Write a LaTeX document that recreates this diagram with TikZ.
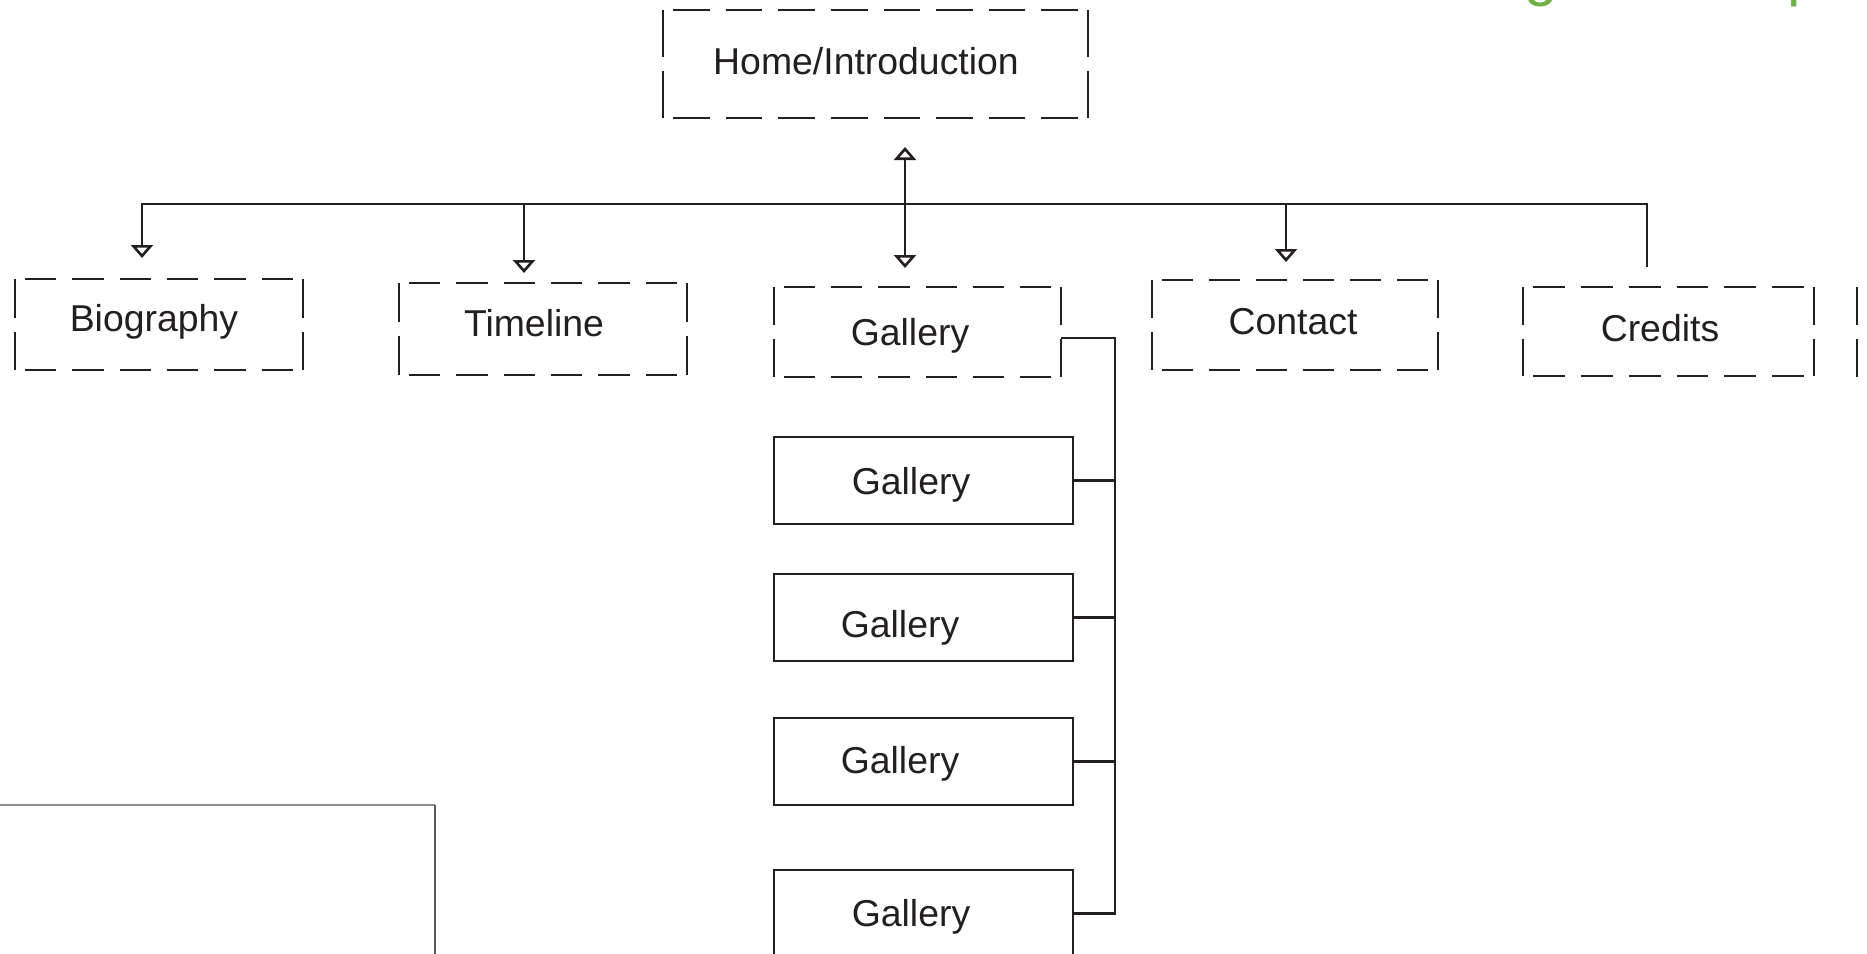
\documentclass[tikz,border=0pt]{standalone}
\usepackage{fontspec}
\setmainfont{Liberation Sans}
\usetikzlibrary{arrows.meta,calc}
\definecolor{ink}{HTML}{231F20}
\definecolor{titlegreen}{RGB}{108,178,68}
\definecolor{frametop}{HTML}{8C8C8C}
\definecolor{frameside}{HTML}{5A5A5A}
\tikzset{
  boxarea/.style={rectangle, inner sep=0pt, outer sep=0pt, draw=none},
  solidbox/.style={rectangle, inner sep=0pt, outer sep=0pt, draw=ink, line width=1.3pt},
  dline/.style={draw=ink, line width=1.3pt},
  conn/.style={draw=ink, line width=1.3pt},
  arr/.style={conn, -{Triangle[open, length=6.5pt, width=11pt]}},
  darr/.style={conn, {Triangle[open, length=6.5pt, width=11pt]}-{Triangle[open, length=6.5pt, width=11pt]}},
  lbl/.style={anchor=base, inner sep=0pt, text=ink, font=\fontsize{18.7pt}{22pt}\selectfont},
}
\newcommand\mydbox[5]{%
  \node[boxarea, minimum width=#4*0.5pt, minimum height=#5*0.5pt] (#1) at (#2,#3) {};
  \pgfmathsetmacro\dW{#4*0.5}%
  \pgfmathtruncatemacro\dN{round((\dW-2)/25)}%
  \pgfmathsetmacro\dOn{(\dW-10-(\dN-1)*8)/\dN}%
  \pgfmathsetmacro\dPh{\dOn+3}%
  \pgfmathsetmacro\vOn{(#5*0.5-7)/2}%
  \draw[dline, dash pattern=on \dOn pt off 8pt, dash phase=\dPh pt] (#1.north west) -- (#1.north east);
  \draw[dline, dash pattern=on \dOn pt off 8pt, dash phase=\dPh pt] (#1.south west) -- (#1.south east);
  \draw[dline, dash pattern=on \vOn pt off 7pt] (#1.north west) -- (#1.south west);
  \draw[dline, dash pattern=on \vOn pt off 7pt] (#1.north east) -- (#1.south east);
}
\begin{document}
\begin{tikzpicture}[x=0.5pt, y=-0.5pt]
\useasboundingbox (0,0) rectangle (1867,953);

% partially visible title
\node[anchor=base west, inner sep=0pt, text=titlegreen, font=\fontsize{30pt}{36pt}\selectfont] (title) at (1404,-5) {Navigation Map};

% dashed boxes
\mydbox{home}{875.5}{64}{425}{108}
\mydbox{bio}{159}{324.5}{288}{91}
\mydbox{tl}{543}{329}{288}{92}
\mydbox{gal}{917.5}{332}{287}{90}
\mydbox{con}{1295}{325}{286}{90}
\mydbox{cred}{1668.5}{331.5}{291}{89}
\mydbox{extra}{2001}{332}{288}{90}

% solid gallery boxes
\node[solidbox, minimum width=149.5pt, minimum height=43.5pt] (g1) at (923.5,480.5) {};
\node[solidbox, minimum width=149.5pt, minimum height=43.5pt] (g2) at (923.5,617.5) {};
\node[solidbox, minimum width=149.5pt, minimum height=43.5pt] (g3) at (923.5,761.5) {};
\node[solidbox, minimum width=149.5pt, minimum height=43.5pt] (g4) at (923.5,913.5) {};

% labels
\node[lbl] (home-t) at (866,74) {Home/Introduction};
\node[lbl] (bio-t) at (154,331) {Biography};
\node[lbl] (tl-t) at (534,336) {Timeline};
\node[lbl] (gal-t) at (910,345) {Gallery};
\node[lbl] (con-t) at (1293,334) {Contact};
\node[lbl] (cred-t) at (1660,341) {Credits};
\node[lbl] (g1-t) at (911,494) {Gallery};
\node[lbl] (g2-t) at (900,637) {Gallery};
\node[lbl] (g3-t) at (900,773) {Gallery};
\node[lbl] (g4-t) at (911,926) {Gallery};

% bus
\coordinate (busL) at (142,204);
\coordinate (busR) at (1647,204);
\coordinate (busT) at (524,204);
\coordinate (busG) at (905,204);
\coordinate (busC) at (1286,204);
\draw[arr] ([yshift=10pt]cred.north -| busR) -- (busR) -- (busL) -- ([yshift=10.5pt]bio.north -| busL);
\draw[arr] (busT) -- ([yshift=5pt]tl.north -| busT);
\draw[arr] (busC) -- ([yshift=9pt]con.north -| busC);
\draw[darr] ([yshift=-14.5pt]home.south -| busG) -- ([yshift=9.5pt]gal.north -| busG);

% gallery spine
\coordinate (sp) at (1115,338);
\draw[conn] ([yshift=-3pt]gal.east) -- ([yshift=-3pt]gal.east -| sp) -- (g4.east -| sp) -- (g4.east);
\draw[conn] (g1.east) -- (g1.east -| sp);
\draw[conn] (g2.east) -- (g2.east -| sp);
\draw[conn] (g3.east) -- (g3.east -| sp);

% partial frame bottom-left
\coordinate (frc) at (435,805);
\draw[draw=frametop, line width=1pt] (-10,805) -- (frc);
\draw[draw=frameside, line width=1pt] (frc) -- (435,980);
\end{tikzpicture}
\end{document}
